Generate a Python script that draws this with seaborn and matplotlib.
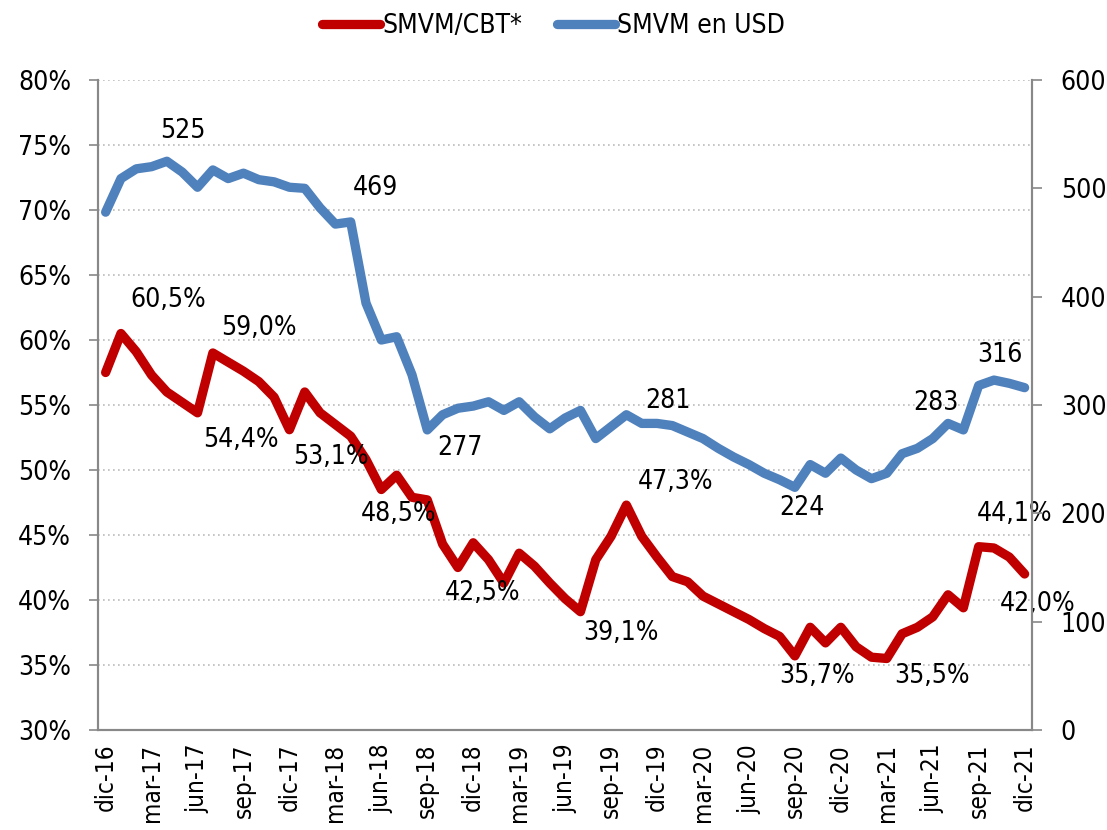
import numpy as np
import pandas as pd
import matplotlib
matplotlib.use("Agg")
import matplotlib.pyplot as plt
import seaborn as sns

# monthly data dic-16 .. dic-21
months = ["ene", "feb", "mar", "abr", "may", "jun", "jul", "ago", "sep", "oct", "nov", "dic"]
periods = ["dic-16"] + [f"{m}-{y}" for y in range(17, 22) for m in months]

smvm_cbt = [57.5, 60.5, 59.1, 57.3, 56.0, 55.2, 54.4, 59.0, 58.3, 57.6,
            56.8, 55.6, 53.1, 56.0, 54.4, 53.5, 52.6, 50.8, 48.5, 49.6,
            47.9, 47.7, 44.3, 42.5, 44.4, 43.1, 41.3, 43.6, 42.6, 41.3,
            40.1, 39.1, 43.1, 44.9, 47.3, 44.9, 43.3, 41.8, 41.4, 40.3,
            39.7, 39.1, 38.5, 37.8, 37.2, 35.7, 37.9, 36.7, 37.9, 36.4,
            35.6, 35.5, 37.4, 37.9, 38.7, 40.4, 39.4, 44.1, 44.0, 43.3, 42.0]

smvm_usd = [478, 509, 518, 520, 525, 515, 501, 517, 509, 514,
            508, 506, 501, 500, 482, 467, 469, 394, 360, 363,
            328, 277, 291, 297, 299, 303, 295, 303, 289, 278,
            288, 295, 269, 280, 291, 283, 283, 281, 275, 269,
            260, 252, 245, 237, 231, 224, 245, 237, 251, 240,
            232, 237, 255, 260, 269, 283, 277, 318, 323, 320, 316]

# (index, label, dx, dy) offsets in pixels
red_labels = [(1, "60,5%", 47, 34), (7, "59,0%", 46, 25), (6, "54,4%", 43, -27),
              (12, "53,1%", 41, -27), (18, "48,5%", 17, -25), (23, "42,5%", 25, -26),
              (31, "39,1%", 40, -21), (34, "47,3%", 49, 23), (45, "35,7%", 22, -20),
              (51, "35,5%", 45, -18), (57, "44,1%", 36, 33), (60, "42,0%", 13, -30)]
blue_labels = [(4, "525", 16, 30), (16, "469", 25, 34), (21, "277", 33, -18),
               (37, "281", -4, 25), (45, "224", 7, -21), (55, "283", -12, 20),
               (58, "316", 6, 25)]

red = "#C00000"
blue = "#4F81BD"

df = pd.DataFrame({"idx": np.arange(len(periods)), "cbt": smvm_cbt, "usd": smvm_usd})

sns.set_style("white")
plt.rcParams["font.family"] = ["DejaVu Sans"]
plt.rcParams["font.stretch"] = "condensed"
plt.rcParams["text.color"] = "black"
plt.rcParams["xtick.color"] = "black"
plt.rcParams["ytick.color"] = "black"
fs = 19

fig = plt.figure(figsize=(11.07, 8.30), dpi=100)
ax = fig.add_axes([0.0885, 0.1205, 0.8440, 0.7831])
ax2 = ax.twinx()

sns.lineplot(data=df, x="idx", y="cbt", ax=ax, color=red, linewidth=6.7,
             solid_joinstyle="round", solid_capstyle="round", label="SMVM/CBT*", legend=False)
sns.lineplot(data=df, x="idx", y="usd", ax=ax2, color=blue, linewidth=6.7,
             solid_joinstyle="round", solid_capstyle="round", label="SMVM en USD", legend=False)

ax.set_xlim(-0.5, len(periods) - 0.5)
ax.set_ylim(30, 80)
ax2.set_ylim(0, 600)
ax.set_yticks(np.arange(30, 81, 5))
ax.set_yticklabels([f"{v}%" for v in range(30, 81, 5)], fontsize=fs)
ax2.set_yticks(np.arange(0, 601, 100))
ax2.set_yticklabels([str(v) for v in range(0, 601, 100)], fontsize=fs)

pos = np.arange(0, len(periods), 3)
ax.set_xticks(pos)
ax.set_xticklabels([periods[i] for i in pos], rotation=90, fontsize=17.5)
ax.set_xticks(pos - 0.5, minor=True)
ax.tick_params(axis="x", which="major", length=0, pad=10)
ax.tick_params(axis="x", which="minor", length=6.5, color="#888888", width=1.2)
ax.tick_params(axis="y", length=6.5, color="#888888", width=1.2, pad=13)
ax2.tick_params(axis="y", length=7.5, color="#888888", width=1.2, pad=13)
ax.set_xlabel("")
ax.set_ylabel("")
ax2.set_ylabel("")

for a in (ax, ax2):
    for side in ("left", "right", "bottom"):
        a.spines[side].set_color("#888888")
        a.spines[side].set_linewidth(1.5)
    a.spines["top"].set_visible(False)

ax.yaxis.grid(True, linestyle=(0, (1, 2)), color="#BBBBBB", linewidth=1.2)
ax.set_axisbelow(True)

for i, txt, dx, dy in red_labels:
    ax.annotate(txt, (i, smvm_cbt[i]), xytext=(dx, dy), textcoords="offset pixels",
                ha="center", va="center", fontsize=fs)
for i, txt, dx, dy in blue_labels:
    ax2.annotate(txt, (i, smvm_usd[i]), xytext=(dx, dy), textcoords="offset pixels",
                 ha="center", va="center", fontsize=fs)

h1, l1 = ax.get_legend_handles_labels()
h2, l2 = ax2.get_legend_handles_labels()
fig.legend(h1 + h2, l1 + l2, loc="center", bbox_to_anchor=(0.5, 1 - 26 / 830), ncol=2,
           frameon=False, fontsize=fs, handlelength=2.2, columnspacing=1.3, handletextpad=0.1,
           borderaxespad=0, borderpad=0)

fig.savefig("out.png", dpi=100)
